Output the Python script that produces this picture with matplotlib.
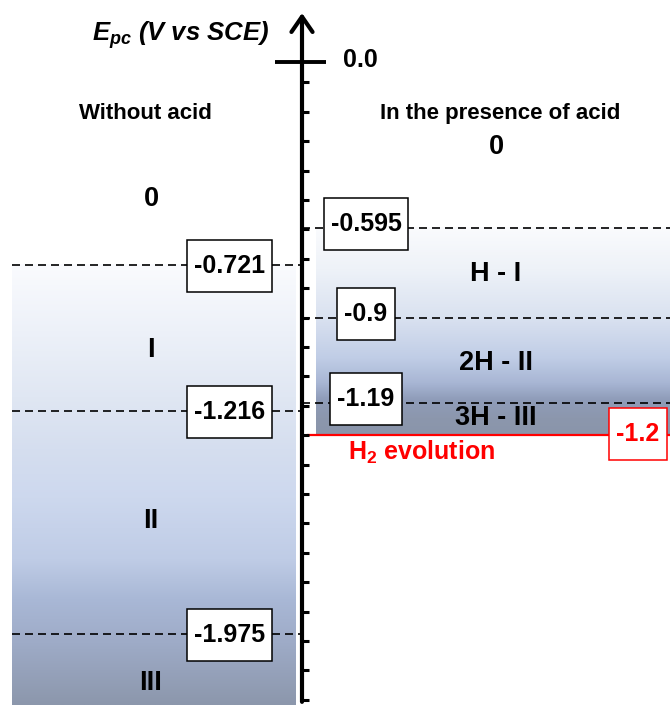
import numpy as np
import matplotlib
matplotlib.use("Agg")
import matplotlib.pyplot as plt
from matplotlib.colors import LinearSegmentedColormap
from matplotlib.path import Path

plt.rcParams['font.family'] = ['Liberation Sans', 'DejaVu Sans']
plt.rcParams['mathtext.fontset'] = 'custom'
plt.rcParams['mathtext.rm'] = 'Liberation Sans:bold'
plt.rcParams['mathtext.it'] = 'Liberation Sans:italic:bold'
plt.rcParams['mathtext.bf'] = 'Liberation Sans:bold'

# ---------------- data ----------------
left_potentials = [-0.721, -1.216, -1.975]
left_potential_labels = ["-0.721", "-1.216", "-1.975"]
left_states = ["0", "I", "II", "III"]

right_potentials = [-0.595, -0.9, -1.19]
right_potential_labels = ["-0.595", "-0.9", "-1.19"]
right_states = ["0", "H - I", "2H - II", "3H - III"]

h2_label = "-1.2"
h2_text = r"H$_\mathrm{2}$ evolution"
axis_zero_label = "0.0"
axis_title = r"$E_{pc}$ (V vs SCE)"
left_title = "Without acid"
right_title = "In the presence of acid"

# ---------------- figure ----------------
fig = plt.figure(figsize=(6.7, 7.05), dpi=100)
ax = fig.add_axes([0, 0, 1, 1])
ax.axis('off')

cm_left = LinearSegmentedColormap.from_list('l', [
    (0.0, '#fafbfe'), (0.3, '#e0e7f3'), (0.42, '#d5deef'), (0.53, '#cdd8ee'),
    (0.67, '#bfcce6'), (0.76, '#a9b8d6'), (0.86, '#9eabc7'), (1.0, '#8c97ac')])
cm_right = LinearSegmentedColormap.from_list('r', [
    (0.0, '#fafbfd'), (0.2, '#eef2f8'), (0.44, '#d9e1f0'), (0.63, '#c0cde6'),
    (0.75, '#a8b6d4'), (0.83, '#8f9cb9'), (0.92, '#8c97ad'), (1.0, '#8a95aa')])
grad = np.linspace(0, 1, 256).reshape(-1, 1)
y_bottom = -2.2177
h2_line_y = -1.3  # drawn position of the H2 evolution line in the picture
ax.imshow(grad, cmap=cm_left, aspect='auto', interpolation='bilinear',
          extent=(12, 296, y_bottom, left_potentials[0]), origin='upper', zorder=0)
ax.imshow(grad, cmap=cm_right, aspect='auto', interpolation='bilinear',
          extent=(316, 670, h2_line_y, right_potentials[0]), origin='upper', zorder=0)
ax.set_xlim(0, 670)
ax.set_ylim(-2.2177, 0.1803)


def label_box(x0, y0, width, height, mutation_size):
    # box with separate horizontal / vertical padding (display pixels)
    px, py = 7, 14
    xa, ya = x0 - px, y0 - py
    xb, yb = x0 + width + px, y0 + height + py
    return Path([(xa, ya), (xb, ya), (xb, yb), (xa, yb), (xa, ya)], closed=True)


# vertical axis with arrow
ax.annotate('', xy=(302, 0.136), xytext=(302, -2.207),
            arrowprops=dict(arrowstyle='->,head_length=0.55,head_width=0.38',
                            lw=3, color='black', shrinkA=0, shrinkB=0,
                            mutation_scale=20), zorder=5)
ticks = np.round(np.arange(-0.1, -2.25, -0.1), 2)
for t in ticks:
    ax.plot([302, 309], [t, t], color='black', lw=2.2, solid_capstyle='butt', zorder=5)
ax.plot([275, 326], [-0.03, -0.03], color='black', lw=2.8, solid_capstyle='butt', zorder=5)
ax.text(343, -0.024, axis_zero_label, fontsize=18, fontweight='bold',
        ha='left', va='center')
ax.text(181, 0.060, axis_title, fontsize=18.5, fontweight='bold', style='italic',
        ha='center', va='center')

# titles
ax.text(145, -0.205, left_title, fontsize=16, fontweight='bold', ha='center', va='center')
ax.text(500, -0.205, right_title, fontsize=16, fontweight='bold', ha='center', va='center')

box = dict(boxstyle=label_box, fc='white', ec='black', lw=1.1)

# left dashed lines + boxes
for v, lab in zip(left_potentials, left_potential_labels):
    ax.plot([12, 300], [v, v], color='black', lw=1.2, dashes=(4.8, 3.0), zorder=2)
    ax.text(229.5, v - 0.004, lab, fontsize=18, fontweight='bold', ha='center',
            va='center', bbox=box, zorder=6)

# right dashed lines + boxes
for v, lab in zip(right_potentials, right_potential_labels):
    ax.plot([302, 670], [v, v], color='black', lw=1.2, dashes=(4.8, 3.0), zorder=2)
    ax.text(366, v + 0.012, lab, fontsize=18, fontweight='bold', ha='center',
            va='center', bbox=box, zorder=6)

# state labels
left_state_y = [-0.497, -1.010, -1.592, -2.143]
for s, y in zip(left_states, left_state_y):
    ax.text(151, y, s, fontsize=19.5, fontweight='bold', ha='center', va='center')
right_state_y = [-0.320, -0.752, -1.054, -1.241]
for s, y in zip(right_states, right_state_y):
    ax.text(496, y, s, fontsize=19.5, fontweight='bold', ha='center', va='center')

# H2 evolution
ax.plot([308, 670], [h2_line_y, h2_line_y], color='#ff0000', lw=1.6, zorder=4)
ax.text(638, h2_line_y + 0.003, h2_label, fontsize=18, fontweight='bold', color='#ff0000',
        ha='center', va='center', zorder=6,
        bbox=dict(boxstyle=label_box, fc='white', ec='#ff0000', lw=1.1))
ax.text(422, -1.36, h2_text, fontsize=18, fontweight='bold', color='#ff0000',
        ha='center', va='center')

fig.savefig('out.png', dpi=100, facecolor='white')
